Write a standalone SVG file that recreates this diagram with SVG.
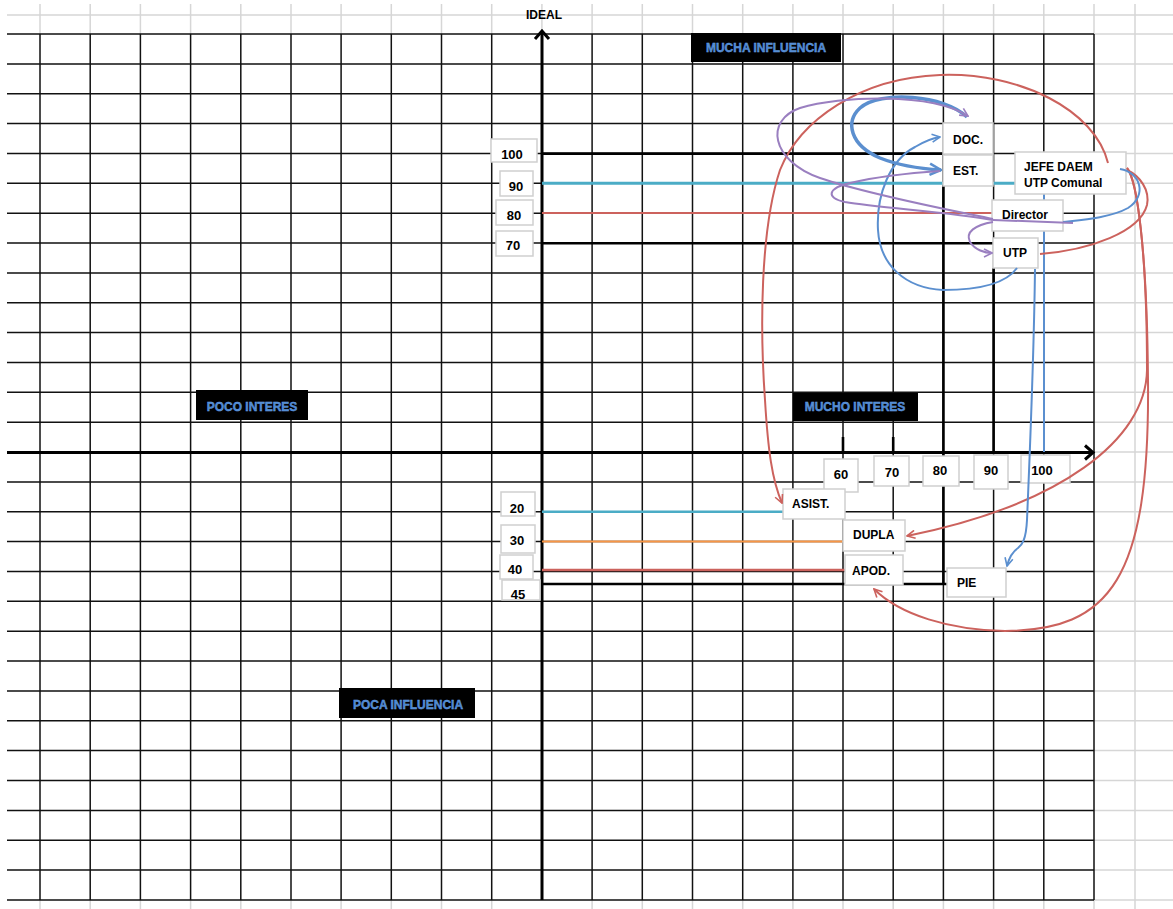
<svg xmlns="http://www.w3.org/2000/svg" width="1173" height="909" viewBox="0 0 1173 909">
<style>
.g{stroke:#111;stroke-width:1.5;fill:none}
.lg{stroke:#d6d6d6;stroke-width:1.5;fill:none}
.ax{stroke:#000;stroke-width:3;fill:none}
.tk{stroke:#000;stroke-width:2.6;fill:none}
.box{fill:#fff;stroke:#cfcfcf;stroke-width:1.5}
.t{font-family:"Liberation Sans",Arial,sans-serif;font-weight:bold;font-size:12px;fill:#000}
.n{font-family:"Liberation Sans",Arial,sans-serif;font-weight:bold;font-size:13px;fill:#000;text-anchor:middle}
.bk{fill:#000}
.bt{font-family:"Liberation Sans",Arial,sans-serif;font-weight:bold;font-size:12px;fill:#4a86d0;stroke:#6fa3e6;stroke-width:0.4;text-anchor:middle}
.red{stroke:#cc625d;stroke-width:2;fill:none}
.blu{stroke:#5b8fcf;stroke-width:2;fill:none}
.bluT{stroke:#5b8fcf;stroke-width:3.5;fill:none}
.pur{stroke:#9a7fc0;stroke-width:2;fill:none}
</style>
<defs>
<marker id="aR" viewBox="0 0 10 10" refX="9" refY="5" markerWidth="5" markerHeight="5" orient="auto" markerUnits="strokeWidth"><path d="M1,1 L9,5 L1,9" fill="none" stroke="#cc625d" stroke-width="1.6"/></marker>
<marker id="aB" viewBox="0 0 10 10" refX="9" refY="5" markerWidth="5" markerHeight="5" orient="auto" markerUnits="strokeWidth"><path d="M1,1 L9,5 L1,9" fill="none" stroke="#5b8fcf" stroke-width="1.6"/></marker>
<marker id="aBT" viewBox="0 0 10 10" refX="9" refY="5" markerWidth="4" markerHeight="4" orient="auto" markerUnits="strokeWidth"><path d="M1,1 L9,5 L1,9" fill="none" stroke="#5b8fcf" stroke-width="1.8"/></marker>
<marker id="aP" viewBox="0 0 10 10" refX="9" refY="5" markerWidth="5" markerHeight="5" orient="auto" markerUnits="strokeWidth"><path d="M1,1 L9,5 L1,9" fill="none" stroke="#9a7fc0" stroke-width="1.6"/></marker>
</defs>
<rect width="1173" height="909" fill="#fff"/>
<g id="grid">
<path class="lg" d="M7 15H1173 M40 4V34 M90.2 4V34 M140.4 4V34 M190.6 4V34 M240.8 4V34 M291 4V34 M341.1 4V34 M391.3 4V34 M441.5 4V34 M491.7 4V34 M541.9 4V34 M592.1 4V34 M642.3 4V34 M692.5 4V34 M742.7 4V34 M792.9 4V34 M843 4V34 M893.2 4V34 M943.4 4V34 M993.6 4V34 M1043.8 4V34 M1094 4V34 M1135 4V909 M1094 34H1173 M1094 63.9H1173 M1094 93.7H1173 M1094 123.6H1173 M1094 153.4H1173 M1094 183.3H1173 M1094 213.2H1173 M1094 243H1173 M1094 272.9H1173 M1094 302.7H1173 M1094 332.6H1173 M1094 362.5H1173 M1094 392.3H1173 M1094 422.2H1173 M1094 452H1173 M1094 481.9H1173 M1094 511.8H1173 M1094 541.6H1173 M1094 571.5H1173 M1094 601.3H1173 M1094 631.2H1173 M1094 661.1H1173 M1094 690.9H1173 M1094 720.8H1173 M1094 750.6H1173 M1094 780.5H1173 M1094 810.4H1173 M1094 840.2H1173 M1094 870.1H1173 M1094 899.9H1173 M40 900V909 M90.2 900V909 M140.4 900V909 M190.6 900V909 M240.8 900V909 M291 900V909 M341.1 900V909 M391.3 900V909 M441.5 900V909 M491.7 900V909 M592.1 900V909 M642.3 900V909 M692.5 900V909 M742.7 900V909 M792.9 900V909 M843 900V909 M893.2 900V909 M943.4 900V909 M993.6 900V909 M1043.8 900V909 M1094 900V909"/>
<path class="g" d="M7 34H1094 M7 63.9H1094 M7 93.7H1094 M7 123.6H1094 M7 153.4H1094 M7 183.3H1094 M7 213.2H1094 M7 243H1094 M7 272.9H1094 M7 302.7H1094 M7 332.6H1094 M7 362.5H1094 M7 392.3H1094 M7 422.2H1094 M7 481.9H1094 M7 511.8H1094 M7 541.6H1094 M7 571.5H1094 M7 601.3H1094 M7 631.2H1094 M7 661.1H1094 M7 690.9H1094 M7 720.8H1094 M7 750.6H1094 M7 780.5H1094 M7 810.4H1094 M7 840.2H1094 M7 870.1H1094 M7 899.9H1094 M40 34V900 M90.2 34V900 M140.4 34V900 M190.6 34V900 M240.8 34V900 M291 34V900 M341.1 34V900 M391.3 34V900 M441.5 34V900 M491.7 34V900 M592.1 34V900 M642.3 34V900 M692.5 34V900 M742.7 34V900 M792.9 34V900 M843 34V900 M893.2 34V900 M943.4 34V900 M993.6 34V900 M1043.8 34V900 M1094 34V900"/>
</g>
<g id="axes">
<path class="ax" d="M542 900V31 M7 452.5H1093"/>
<path class="ax" d="M535 39L542 31L549 39 M1085 445.5L1093 452.5L1085 459.5" stroke-width="2.6"/>
<text class="t" x="544" y="19" font-size="11" text-anchor="middle">IDEAL</text>
</g>
<g id="connectors">
<path class="tk" d="M542 153.6H943 M542 243.2H993 M542 584H947 M943.4 154V584 M993.6 268V452 M843 437V452 M893.2 437V452"/>
<path d="M542 183.3H1016" stroke="#4bacc6" stroke-width="3" fill="none"/>
<path d="M542 213H993" stroke="#cc625d" stroke-width="2" fill="none"/>
<path d="M542 511.8H783" stroke="#4bacc6" stroke-width="2.5" fill="none"/>
<path d="M542 541.6H843" stroke="#f79646" stroke-width="2" fill="none"/>
<path d="M542 570H845" stroke="#cc625d" stroke-width="2.5" fill="none"/>
<path class="blu" d="M1044 194V452"/>
</g>
<g id="labels-y">
<rect class="box" x="491" y="139" width="46" height="23"/><text class="n" x="512" y="159">100</text>
<rect class="box" x="500" y="171" width="33" height="25"/><text class="n" x="516" y="191">90</text>
<rect class="box" x="496" y="200" width="37" height="25"/><text class="n" x="514" y="220">80</text>
<rect class="box" x="496" y="231" width="37" height="25"/><text class="n" x="513" y="250">70</text>
<rect class="box" x="501" y="492" width="34" height="24"/><text class="n" x="517" y="513">20</text>
<rect class="box" x="501" y="525" width="34" height="28"/><text class="n" x="517" y="545">30</text>
<rect class="box" x="500" y="555" width="33" height="24"/><text class="n" x="515" y="574" font-size="12">40</text>
<rect class="box" x="502" y="580" width="38" height="20"/><text class="n" x="518" y="599" font-size="11">45</text>
</g>
<g id="labels-x">
<rect class="box" x="824" y="459" width="34" height="33"/><text class="n" x="841" y="479">60</text>
<rect class="box" x="874" y="456" width="35" height="30"/><text class="n" x="892" y="477">70</text>
<rect class="box" x="923" y="456" width="36" height="30"/><text class="n" x="940" y="475">80</text>
<rect class="box" x="974" y="455" width="34" height="34"/><text class="n" x="991" y="475">90</text>
<rect class="box" x="1021" y="455" width="49" height="28"/><text class="n" x="1042" y="475">100</text>
</g>
<g id="quadrants">
<rect class="bk" x="691" y="33" width="150" height="29"/><text class="bt" x="766" y="52">MUCHA INFLUENCIA</text>
<rect class="bk" x="196" y="390" width="112" height="30"/><text class="bt" x="252" y="411">POCO INTERES</text>
<rect class="bk" x="793" y="393" width="125" height="28"/><text class="bt" x="855" y="411">MUCHO INTERES</text>
<rect class="bk" x="339" y="688" width="136" height="30"/><text class="bt" x="408" y="709">POCA INFLUENCIA</text>
</g>
<g id="node-doc"><rect class="box" x="943" y="123" width="50" height="31"/><text class="t" x="953" y="144">DOC.</text></g>
<g id="node-est"><rect class="box" x="943" y="155" width="50" height="31"/><text class="t" x="953" y="175">EST.</text></g>
<g id="node-jefe"><rect class="box" x="1015" y="152" width="111" height="42"/><text class="t" x="1024" y="171">JEFE DAEM</text><text class="t" x="1024" y="187">UTP Comunal</text></g>
<g id="node-director"><rect class="box" x="992" y="200" width="71" height="31"/><text class="t" x="1002" y="219">Director</text></g>
<g id="node-utp"><rect class="box" x="993" y="238" width="45" height="30"/><text class="t" x="1003" y="257">UTP</text></g>
<g id="node-asist"><rect class="box" x="783" y="489" width="62" height="30"/><text class="t" x="792" y="508" font-size="11.5">ASIST.</text></g>
<g id="node-dupla"><rect class="box" x="843" y="520" width="62" height="31"/><text class="t" x="853" y="539" font-size="11.5">DUPLA</text></g>
<g id="node-apod"><rect class="box" x="845" y="555" width="58" height="30"/><text class="t" x="852" y="575">APOD.</text></g>
<g id="node-pie"><rect class="box" x="947" y="568" width="59" height="29"/><text class="t" x="957" y="587" font-size="11.5">PIE</text></g>
<g id="curves">
<path class="red" d="M1108 163C1095 110 1020 72 940 75C860 78 800 120 780 170C760 230 760 330 765 400C768 450 772 480 782 503" marker-end="url(#aR)"/>
<path class="red" stroke-width="2.5" d="M1127 168C1137 180 1147 250 1147 370C1146 440 1060 505 907 536" marker-end="url(#aR)"/>
<path class="red" stroke-width="2.5" d="M1127 168C1137 180 1147 250 1148 380C1150 580 1110 630 1005 631C950 630 900 615 874 589" marker-end="url(#aR)"/>
<path class="red" d="M1040 254C1090 250 1140 232 1147 205C1150 190 1140 176 1127 170"/>
<path class="blu" d="M1120 169C1140 172 1148 195 1128 208C1110 218 1080 220 1063 222"/>
<path class="bluT" d="M967 117C945 95 880 90 860 108C845 122 850 145 880 158C900 166 925 169 941 170" marker-end="url(#aBT)"/>
<path class="blu" d="M1017 268C1005 285 975 290 943 290C905 288 880 265 878 230C876 195 890 160 915 147C925 141 933 138 940 137" marker-end="url(#aB)"/>
<path class="blu" d="M1035 269C1034 350 1030 450 1027 520C1026 540 1022 545 1018 548C1012 552 1009 558 1007 566" marker-end="url(#aB)"/>
<path class="pur" d="M1073 223L993 220"/>
<path class="pur" d="M993 219C950 210 870 195 820 178C770 160 765 120 800 108C840 96 930 92 968 116" marker-end="url(#aP)"/>
<path class="pur" d="M993 220C950 212 880 208 845 202C825 198 828 188 850 183C880 176 910 173 940 171"/>
<path class="pur" d="M993 222C975 225 965 232 970 242C975 250 985 253 992 253" marker-end="url(#aP)"/>
</g>
</svg>
